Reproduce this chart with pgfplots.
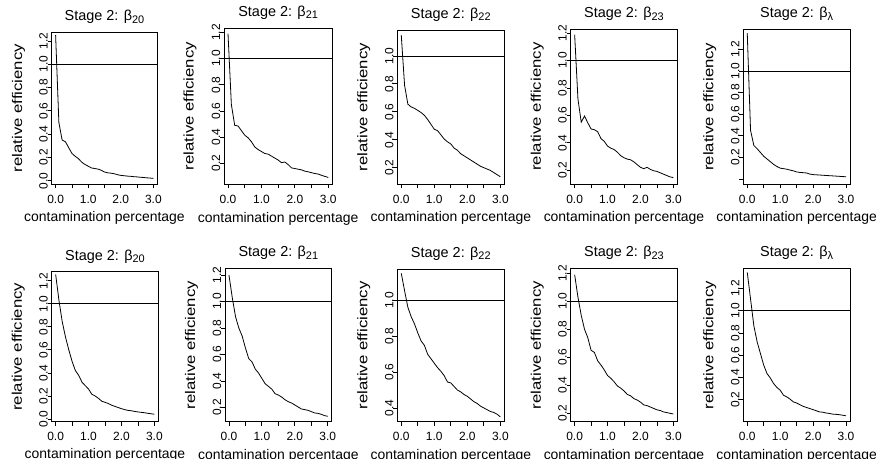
\documentclass[border=0pt]{standalone}
\usepackage{fontspec}
\setmainfont{Liberation Sans}
\usepackage{pgfplots}
\usepackage{pgfplotstable}
\pgfplotsset{compat=1.18}

% top row: a=beta20, b=beta21, c=beta22, d=beta23, e=beta_lambda
\pgfplotstableread{
x   a     b     c     d     e
0.0 1.25  1.19  1.15  1.19  1.35
0.1 0.50  0.65  0.79  0.72  0.45
0.2 0.35  0.49  0.655 0.55  0.31
0.3 0.335 0.485 0.635 0.595 0.28
0.4 0.285 0.45  0.625 0.545 0.245
0.5 0.235 0.415 0.61  0.50  0.21
0.6 0.21  0.395 0.595 0.495 0.185
0.7 0.19  0.365 0.575 0.48  0.16
0.8 0.16  0.325 0.545 0.43  0.135
0.9 0.14  0.305 0.51  0.41  0.115
1.0 0.125 0.29  0.475 0.375 0.10
1.1 0.11  0.275 0.465 0.36  0.095
1.2 0.105 0.27  0.435 0.35  0.09
1.3 0.10  0.255 0.405 0.33  0.082
1.4 0.09  0.24  0.385 0.305 0.075
1.5 0.075 0.225 0.37  0.29  0.065
1.6 0.068 0.205 0.34  0.28  0.06
1.7 0.065 0.21  0.325 0.275 0.058
1.8 0.06  0.19  0.30  0.26  0.055
1.9 0.052 0.165 0.285 0.24  0.045
2.0 0.046 0.16  0.27  0.22  0.04
2.1 0.043 0.155 0.255 0.21  0.038
2.2 0.040 0.15  0.24  0.22  0.036
2.3 0.038 0.14  0.225 0.205 0.034
2.4 0.035 0.135 0.21  0.195 0.032
2.5 0.033 0.128 0.20  0.19  0.030
2.6 0.030 0.122 0.19  0.18  0.028
2.7 0.028 0.118 0.18  0.17  0.026
2.8 0.025 0.108 0.165 0.16  0.024
2.9 0.023 0.10  0.15  0.15  0.022
3.0 0.020 0.092 0.135 0.145 0.020
}\topdata

% bottom row
\pgfplotstableread{
x   a     b     c     d     e
0.0 1.255 1.20  1.153 1.19  1.345
0.1 1.03  1.03  1.056 1.03  1.105
0.2 0.845 0.885 0.963 0.90  0.865
0.3 0.71  0.80  0.91  0.80  0.72
0.4 0.60  0.74  0.87  0.74  0.615
0.5 0.50  0.65  0.82  0.65  0.51
0.6 0.42  0.57  0.775 0.635 0.435
0.7 0.38  0.545 0.75  0.575 0.395
0.8 0.32  0.49  0.70  0.545 0.345
0.9 0.29  0.46  0.675 0.51  0.31
1.0 0.26  0.42  0.65  0.47  0.285
1.1 0.215 0.38  0.625 0.45  0.24
1.2 0.20  0.36  0.605 0.425 0.225
1.3 0.18  0.34  0.58  0.395 0.205
1.4 0.155 0.305 0.545 0.38  0.18
1.5 0.145 0.295 0.54  0.36  0.17
1.6 0.135 0.28  0.52  0.335 0.155
1.7 0.12  0.26  0.50  0.325 0.14
1.8 0.11  0.245 0.49  0.305 0.13
1.9 0.10  0.235 0.475 0.295 0.12
2.0 0.09  0.22  0.465 0.28  0.11
2.1 0.082 0.205 0.45  0.26  0.10
2.2 0.075 0.19  0.435 0.255 0.09
2.3 0.072 0.185 0.425 0.245 0.087
2.4 0.066 0.18  0.41  0.235 0.08
2.5 0.062 0.17  0.40  0.225 0.076
2.6 0.058 0.16  0.39  0.22  0.07
2.7 0.055 0.157 0.38  0.21  0.068
2.8 0.05  0.15  0.375 0.205 0.065
2.9 0.046 0.14  0.365 0.20  0.06
3.0 0.042 0.135 0.35  0.195 0.055
}\botdata

\newcommand{\ttl}[1]{Stage 2: β\raisebox{-2.5bp}{\fontsize{11}{11}\selectfont #1}}

\pgfplotsset{
  panel/.style={
    scale only axis,
    anchor=south west,
    xmin=-0.12, xmax=3.12,
    xtick={0,0.5,1,1.5,2,2.5,3},
    xticklabels={0.0,,1.0,,2.0,,3.0},
    tick align=outside,
    xtick pos=left, ytick pos=left,
    major tick length=4bp,
    axis line style={line width=0.8bp, black},
    every tick/.style={line width=0.8bp, black},
    /pgf/number format/assume math mode=true,
    ticklabel style={font=\fontsize{12}{12}\selectfont},
    xticklabel style={anchor=base, yshift=-15bp},
    yticklabel style={rotate=90, anchor=base, /pgf/number format/.cd, fixed, fixed zerofill, precision=1},
    xlabel={contamination percentage},
    ylabel={\scalebox{1.2}[1]{relative efficiency}},
    label style={font=\fontsize{14}{14}\selectfont},
    xlabel style={at={(axis description cs:0.5,-0.245)}, anchor=base},
    ylabel style={at={(axis description cs:-0.28,0.5)}, anchor=base},
    title style={at={(axis description cs:0.5,1.076)}, anchor=base, yshift=-6pt, font=\fontsize{14.5}{14.5}\selectfont},
  },
  crv/.style={black, line width=0.8bp, mark=none},
}

\begin{document}
\begin{tikzpicture}
% ---------- top row ----------
\begin{axis}[panel, at={(51.7bp,-184bp)}, width=105.6bp, height=151.7bp,
  ymin=-0.028, ymax=1.275, ytick={0,0.2,0.4,0.6,0.8,1.0,1.2}, title={\ttl{20}}]
\addplot[crv] table[x=x,y=a]{\topdata};
\addplot[crv] coordinates {(-1,1) (4,1)};
\end{axis}
\begin{axis}[panel, at={(224bp,-184bp)}, width=108.3bp, height=155.7bp,
  ymin=0.042, ymax=1.231, ytick={0.2,0.4,0.6,0.8,1.0,1.2}, title={\ttl{21}}]
\addplot[crv] table[x=x,y=b]{\topdata};
\addplot[crv] coordinates {(-1,1) (4,1)};
\end{axis}
\begin{axis}[panel, at={(397.3bp,-184bp)}, width=107bp, height=154bp,
  ymin=0.083, ymax=1.186, ytick={0.2,0.4,0.6,0.8,1.0}, title={\ttl{22}}]
\addplot[crv] table[x=x,y=c]{\topdata};
\addplot[crv] coordinates {(-1,1) (4,1)};
\end{axis}
\begin{axis}[panel, at={(570.7bp,-184bp)}, width=106.6bp, height=154.7bp,
  ymin=0.098, ymax=1.229, ytick={0.2,0.4,0.6,0.8,1.0,1.2}, title={\ttl{23}}]
\addplot[crv] table[x=x,y=d]{\topdata};
\addplot[crv] coordinates {(-1,1) (4,1)};
\end{axis}
\begin{axis}[panel, at={(743.3bp,-184bp)}, width=106.7bp, height=154.7bp,
  ymin=-0.047, ymax=1.386, ytick={0,0.2,0.4,0.6,0.8,1.0,1.2},
  yticklabels={,0.2,0.4,0.6,0.8,1.0,1.2}, title={\ttl{λ}}]
\addplot[crv] table[x=x,y=e]{\topdata};
\addplot[crv] coordinates {(-1,1) (4,1)};
\end{axis}
% ---------- bottom row ----------
\begin{axis}[panel, at={(51.7bp,-421.7bp)}, width=106.6bp, height=150bp,
  ymin=-0.023, ymax=1.278, ytick={0,0.2,0.4,0.6,0.8,1.0,1.2}, title={\ttl{20}}]
\addplot[crv] table[x=x,y=a]{\botdata};
\addplot[crv] coordinates {(-1,1) (4,1)};
\end{axis}
\begin{axis}[panel, at={(225bp,-421.7bp)}, width=106.7bp, height=153.4bp,
  ymin=0.094, ymax=1.25, ytick={0.2,0.4,0.6,0.8,1.0,1.2}, title={\ttl{21}}]
\addplot[crv] table[x=x,y=b]{\botdata};
\addplot[crv] coordinates {(-1,1) (4,1)};
\end{axis}
\begin{axis}[panel, at={(397.3bp,-421.7bp)}, width=107bp, height=152.7bp,
  ymin=0.323, ymax=1.177, ytick={0.4,0.6,0.8,1.0}, title={\ttl{22}}]
\addplot[crv] table[x=x,y=c]{\botdata};
\addplot[crv] coordinates {(-1,1) (4,1)};
\end{axis}
\begin{axis}[panel, at={(570.7bp,-421.7bp)}, width=106.6bp, height=153.4bp,
  ymin=0.14, ymax=1.236, ytick={0.2,0.4,0.6,0.8,1.0,1.2}, title={\ttl{23}}]
\addplot[crv] table[x=x,y=d]{\botdata};
\addplot[crv] coordinates {(-1,1) (4,1)};
\end{axis}
\begin{axis}[panel, at={(743.3bp,-421.7bp)}, width=106.7bp, height=153.4bp,
  ymin=0.002, ymax=1.381, ytick={0.2,0.4,0.6,0.8,1.0,1.2}, title={\ttl{λ}}]
\addplot[crv] table[x=x,y=e]{\botdata};
\addplot[crv] coordinates {(-1,1) (4,1)};
\end{axis}
\pgfresetboundingbox
\useasboundingbox (0bp,0bp) rectangle (876bp,-459bp);
\end{tikzpicture}
\end{document}
